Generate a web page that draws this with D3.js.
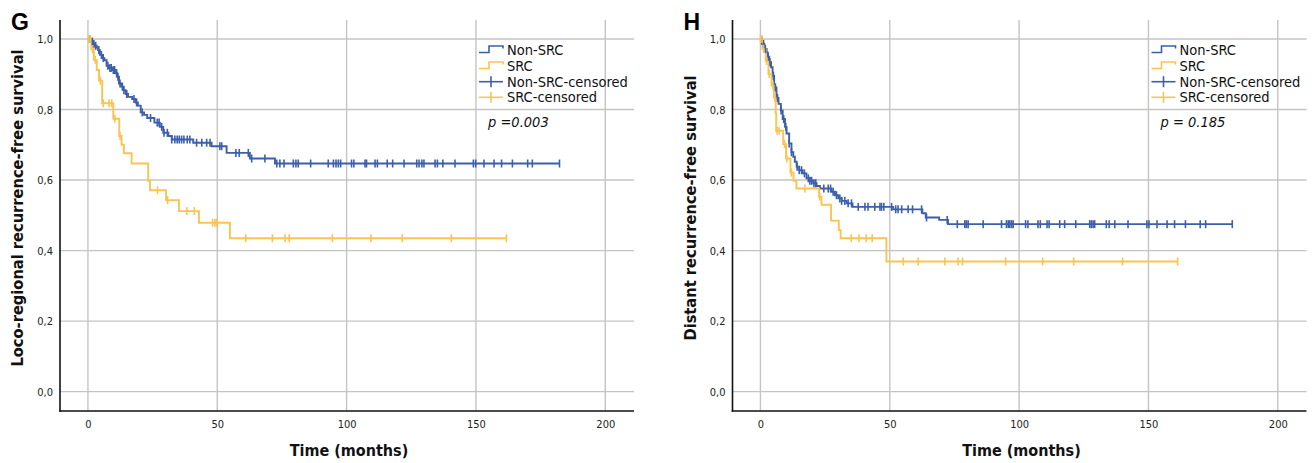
<!DOCTYPE html>
<html>
<head>
<meta charset="utf-8">
<script src="https://cdn.jsdelivr.net/npm/d3@7"></script>
<style>
  html, body { margin: 0; padding: 0; background: #ffffff; }
  svg { display: block; }
</style>
</head>
<body>
<svg id="chart" width="1314" height="463"></svg>
<script>
// ---------------- DATA ----------------
const timeTicks = [0, 50, 100, 150, 200];
const survTicks = [0.0, 0.2, 0.4, 0.6, 0.8, 1.0];
const groupNames = ["Non-SRC", "SRC", "Non-SRC-censored", "SRC-censored"];
const panelLetters = ["G", "H"];
const yTitles = ["Loco-regional recurrence-free survival", "Distant recurrence-free survival"];
const xTitle = "Time (months)";
const pTexts = ["p =0.003", "p = 0.185"];

// Panel G: event steps [time, survival after event] and censor times
const gNonSrcSteps = [[1.3,0.993],[2.0,0.986],[2.6,0.981],[3.4,0.976],[3.9,0.969],[4.6,0.955],[5.5,0.946],[6.4,0.940],[7.2,0.924],[8.1,0.918],[9.4,0.912],[10.7,0.903],[11.3,0.893],[12.0,0.874],[12.9,0.865],[13.7,0.855],[14.6,0.844],[15.5,0.836],[17.1,0.830],[18.4,0.820],[19.3,0.811],[20.4,0.792],[21.7,0.785],[22.9,0.776],[25.7,0.763],[27.8,0.751],[29.1,0.734],[31.1,0.725],[32.4,0.715],[40.7,0.706],[47.8,0.696],[53.6,0.677],[62.6,0.661],[72.3,0.647]];
const gNonSrcCensor = [0.8,1.7,2.3,3.0,4.2,5.2,5.9,7.7,8.5,9.0,9.8,10.3,11.1,11.6,12.4,13.3,13.9,15.0,17.8,18.8,21.0,24.2,26.8,27.5,28.5,29.4,30.7,32.4,33.6,34.5,35.3,36.2,37.1,38.4,39.4,42.0,44.0,45.9,47.2,51.0,51.7,57.2,58.5,62.0,63.3,68.4,73.0,74.2,75.8,79.4,80.4,81.3,86.1,92.9,94.9,95.9,96.8,97.7,101.9,102.8,107.1,107.7,111.0,111.9,115.7,117.8,122.2,127.1,128.0,129.1,129.9,134.2,135.1,137.2,141.9,149.0,149.9,153.1,157.0,159.9,164.1,170.0,171.8,182.3];
const gSrcSteps = [[1.3,0.971],[2.3,0.941],[3.4,0.912],[4.3,0.882],[5.5,0.818],[9.8,0.774],[12.1,0.725],[13.0,0.700],[13.9,0.676],[16.9,0.647],[23.3,0.598],[24.0,0.571],[30.2,0.543],[35.2,0.512],[42.9,0.479],[54.9,0.435]];
const gSrcCensor = [0.3,0.9,1.8,2.8,4.8,5.9,8.2,9.2,10.4,12.4,26.9,30.8,38.2,41.1,48.2,49.1,49.8,61.0,71.3,76.2,77.8,94.5,109.4,121.5,140.5,161.8];

// Panel H
const hNonSrcSteps = [[0.2,0.995],[0.8,0.986],[1.5,0.972],[2.4,0.962],[2.8,0.950],[3.4,0.934],[4.1,0.920],[4.7,0.896],[5.3,0.863],[6.2,0.833],[7.0,0.816],[7.9,0.797],[8.6,0.773],[9.5,0.751],[10.1,0.732],[11.1,0.704],[12.0,0.679],[12.7,0.666],[13.3,0.652],[14.0,0.638],[15.0,0.628],[16.3,0.619],[17.8,0.605],[19.1,0.598],[20.4,0.591],[21.7,0.583],[23.0,0.576],[27.5,0.567],[28.8,0.557],[30.1,0.548],[31.4,0.541],[33.3,0.534],[35.6,0.524],[51.3,0.517],[62.6,0.506],[63.9,0.494],[69.1,0.487],[72.5,0.475]];
const hNonSrcCensor = [0.5,1.2,1.9,3.0,3.7,5.0,5.8,6.6,8.0,9.0,9.8,11.1,12.0,14.2,15.0,15.9,17.0,18.5,19.1,19.8,20.7,21.4,24.5,26.2,27.1,28.1,29.4,30.7,31.4,32.6,33.9,35.2,37.8,40.4,41.6,44.2,46.2,46.8,47.7,50.7,52.3,53.2,54.6,57.1,58.8,62.3,64.2,72.2,76.1,79.0,79.6,80.3,86.1,93.2,95.1,95.8,96.4,97.1,97.7,102.5,103.4,107.3,108.2,110.8,111.6,115.7,117.6,121.9,127.3,127.9,128.6,129.2,133.7,134.8,137.0,142.1,149.4,150.2,153.3,157.2,160.1,164.3,170.0,172.1,182.4];
const hSrcSteps = [[0.8,0.972],[2.0,0.938],[3.1,0.901],[4.3,0.868],[5.2,0.833],[5.9,0.790],[6.1,0.740],[8.8,0.702],[9.9,0.661],[11.6,0.621],[12.8,0.598],[13.9,0.576],[22.7,0.553],[23.6,0.530],[27.3,0.485],[30.3,0.458],[31.0,0.435],[48.7,0.369]];
const hSrcCensor = [0.0,0.6,1.2,2.4,3.4,4.8,5.6,6.4,7.2,9.3,10.2,12.0,17.2,22.9,35.1,38.1,40.9,43.2,55.2,61.0,71.3,76.4,78.1,94.8,109.1,121.1,140.0,161.3];

// ---------------- STYLE ----------------
const BLUE = "#3d5fab";
const YELLOW = "#f9c451";
const FONT = "'DejaVu Sans Condensed', 'DejaVu Sans', sans-serif";

const panels = [
  { dx: 0,     letter: panelLetters[0], yTitle: yTitles[0], p: pTexts[0],
    series: [{steps: gNonSrcSteps, cens: gNonSrcCensor, color: BLUE}, {steps: gSrcSteps, cens: gSrcCensor, color: YELLOW}] },
  { dx: 672.5, letter: panelLetters[1], yTitle: yTitles[1], p: pTexts[1],
    series: [{steps: hNonSrcSteps, cens: hNonSrcCensor, color: BLUE}, {steps: hSrcSteps, cens: hSrcCensor, color: YELLOW}] }
];

const svg = d3.select("#chart");

function survAt(steps, t) {
  let s = 1.0;
  for (const [st, sv] of steps) { if (st <= t) s = sv; else break; }
  return s;
}

panels.forEach(pn => {
  const g = svg.append("g").attr("transform", `translate(${pn.dx},0)`);
  const x = d3.scaleLinear().domain([-10.8, 211.1]).range([60, 634]);
  const y = d3.scaleLinear().domain([-0.055, 1.054]).range([411, 20]);

  // grid
  g.append("g").selectAll("line.h").data(survTicks).join("line")
    .attr("x1", 60).attr("x2", 634)
    .attr("y1", d => y(d)).attr("y2", d => y(d))
    .attr("stroke", "#c4c4c4").attr("stroke-width", 1.4);
  g.append("g").selectAll("line.v").data(timeTicks).join("line")
    .attr("y1", 20).attr("y2", 411)
    .attr("x1", d => x(d)).attr("x2", d => x(d))
    .attr("stroke", "#c4c4c4").attr("stroke-width", 1.4);

  // axes with d3 axis generators (no tick marks)
  const yAxis = d3.axisLeft(y).tickValues(survTicks).tickSize(0).tickPadding(7)
    .tickFormat(d => d3.format(".1f")(d).replace(".", ","));
  const gy = g.append("g").attr("transform", "translate(60,0)").call(yAxis);
  gy.select(".domain").remove();
  gy.selectAll("text").attr("font-family", FONT).attr("font-size", 11).attr("fill", "#222");

  const xAxis = d3.axisBottom(x).tickValues(timeTicks).tickSize(0).tickPadding(9)
    .tickFormat(d3.format("d"));
  const gx = g.append("g").attr("transform", "translate(0,411)").call(xAxis);
  gx.select(".domain").remove();
  gx.selectAll("text").attr("font-family", FONT).attr("font-size", 11).attr("fill", "#222");

  g.append("line").attr("x1", 60).attr("x2", 60).attr("y1", 20).attr("y2", 411.8)
    .attr("stroke", "#111").attr("stroke-width", 1.6);
  g.append("line").attr("x1", 59.2).attr("x2", 634).attr("y1", 411).attr("y2", 411)
    .attr("stroke", "#111").attr("stroke-width", 1.6);

  // curves
  const line = d3.line().x(d => x(d[0])).y(d => y(d[1])).curve(d3.curveStepAfter);
  pn.series.forEach(s => {
    const last = d3.max(s.cens.concat(s.steps.map(d => d[0])));
    const pts = [[0, 1.0], ...s.steps, [last, s.steps[s.steps.length - 1][1]]];
    g.append("path").datum(pts).attr("d", line)
      .attr("fill", "none").attr("stroke", s.color).attr("stroke-width", 1.9)
      .attr("stroke-linejoin", "miter");
  });
  pn.series.forEach(s => {
    g.append("g").selectAll("line").data(s.cens).join("line")
      .attr("x1", d => x(d)).attr("x2", d => x(d))
      .attr("y1", d => y(survAt(s.steps, d)) - 4)
      .attr("y2", d => y(survAt(s.steps, d)) + 4)
      .attr("stroke", s.color).attr("stroke-width", 1.6);
  });

  // legend
  const lx = 479, tx = 507;
  const baselines = [55, 71, 86.7, 102.3];
  const colors = [BLUE, YELLOW, BLUE, YELLOW];
  groupNames.forEach((name, i) => {
    const cy = baselines[i] - 5;
    if (i < 2) {
      g.append("path")
        .attr("d", `M${lx},${cy + 2.5} H${lx + 10} V${cy - 4} H${lx + 24} V${cy - 1.5}`)
        .attr("fill", "none").attr("stroke", colors[i]).attr("stroke-width", 1.6);
    } else {
      g.append("line").attr("x1", lx).attr("x2", lx + 24).attr("y1", cy).attr("y2", cy)
        .attr("stroke", colors[i]).attr("stroke-width", 1.6);
      g.append("line").attr("x1", lx + 12).attr("x2", lx + 12).attr("y1", cy - 5.5).attr("y2", cy + 5.5)
        .attr("stroke", colors[i]).attr("stroke-width", 1.6);
    }
    g.append("text").attr("x", tx).attr("y", baselines[i]).text(name)
      .attr("font-family", FONT).attr("font-size", 14.5).attr("fill", "#111");
  });

  // p value
  g.append("text").attr("x", 488).attr("y", 127).text(pn.p)
    .attr("font-family", FONT).attr("font-style", "italic").attr("font-size", 14.5).attr("fill", "#111");

  // titles
  g.append("text").attr("x", 349).attr("y", 456).attr("text-anchor", "middle").text(xTitle)
    .attr("font-family", FONT).attr("font-weight", "bold").attr("font-size", 16).attr("fill", "#111");
  g.append("text").attr("transform", "translate(23,208) rotate(-90)").attr("text-anchor", "middle")
    .text(pn.yTitle)
    .attr("font-family", FONT).attr("font-weight", "bold").attr("font-size", 16.3).attr("fill", "#111");

  // panel letter
  g.append("text").attr("x", 11).attr("y", 29.5).text(pn.letter)
    .attr("font-family", "'Liberation Sans', Arial, sans-serif").attr("font-weight", "bold")
    .attr("font-size", 23).attr("fill", "#000");
});
</script>
</body>
</html>
